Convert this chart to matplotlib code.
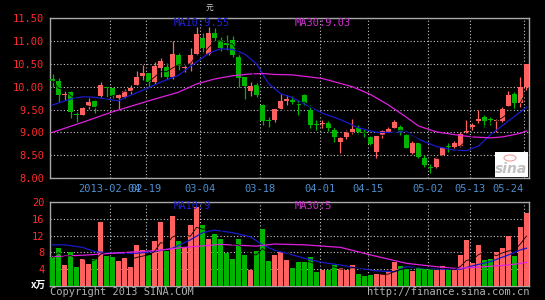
import matplotlib
matplotlib.use("Agg")
import matplotlib.pyplot as plt
import numpy as np
import pandas as pd
from matplotlib.patches import Rectangle, Ellipse

# daily candles (open, close, high, low), 80 trading days
opens = [10.16, 10.12, 9.81, 9.88, 9.40, 9.39, 9.58, 9.68, 9.79, 10.00,
         9.98, 9.76, 9.78, 9.91, 10.04, 10.24, 10.31, 10.11, 10.41, 10.44,
         10.22, 10.70, 10.40, 10.50, 10.71, 11.06, 10.71, 11.18, 11.02, 10.95,
         11.02, 10.66, 10.22, 9.90, 10.03, 9.60, 9.27, 9.27, 9.52, 9.69,
         9.72, 9.62, 9.82, 9.50, 9.18, 9.18, 9.21, 9.06, 8.78, 8.90,
         9.00, 9.10, 9.01, 8.90, 8.57, 8.94, 9.00, 9.10, 9.12, 8.95,
         8.54, 8.76, 8.44, 8.24, 8.25, 8.50, 8.69, 8.68, 8.70, 9.00,
         9.12, 9.25, 9.34, 9.30, 9.25, 9.25, 9.58, 9.85, 9.65, 10.00]
closes = [10.13, 9.81, 9.84, 9.45, 9.38, 9.54, 9.67, 9.56, 10.03, 9.97,
          9.80, 9.82, 9.90, 9.97, 10.22, 10.31, 10.11, 10.45, 10.56, 10.22,
          10.71, 10.46, 10.43, 10.70, 11.15, 10.84, 11.17, 11.06, 10.84, 10.92,
          10.70, 10.20, 10.02, 10.01, 9.81, 9.25, 9.24, 9.51, 9.68, 9.74,
          9.66, 9.60, 9.64, 9.16, 9.17, 9.20, 9.10, 8.89, 8.88, 9.00,
          9.08, 9.00, 8.99, 8.75, 8.92, 9.03, 9.08, 9.22, 9.01, 8.66,
          8.76, 8.47, 8.28, 8.21, 8.43, 8.66, 8.68, 8.76, 8.97, 9.03,
          9.16, 9.29, 9.25, 9.28, 9.27, 9.52, 9.81, 9.65, 10.00, 10.50]
highs = [10.27, 10.20, 9.90, 9.90, 9.45, 9.55, 9.76, 9.70, 10.10, 10.00,
         9.98, 9.85, 9.94, 10.03, 10.34, 10.47, 10.31, 10.55, 10.62, 10.53,
         11.00, 10.75, 10.47, 10.85, 11.30, 11.17, 11.30, 11.28, 11.10, 11.13,
         11.12, 10.75, 10.22, 10.10, 10.10, 9.63, 9.34, 9.52, 9.85, 9.82,
         9.79, 9.71, 9.83, 9.60, 9.27, 9.27, 9.27, 9.12, 8.90, 9.05,
         9.29, 9.16, 9.08, 8.92, 8.92, 9.05, 9.11, 9.27, 9.16, 8.97,
         8.81, 8.76, 8.50, 8.30, 8.47, 8.68, 8.76, 8.80, 9.00, 9.27,
         9.20, 9.48, 9.38, 9.34, 9.29, 9.56, 9.90, 9.89, 10.22, 10.50]
lows = [9.99, 9.66, 9.72, 9.32, 9.23, 9.38, 9.52, 9.43, 9.78, 9.78,
        9.76, 9.52, 9.76, 9.83, 10.04, 10.15, 10.00, 10.07, 10.22, 10.18,
        10.18, 10.36, 10.33, 10.35, 10.70, 10.73, 10.70, 11.00, 10.78, 10.80,
        10.66, 10.00, 9.73, 9.80, 9.78, 9.16, 9.12, 9.23, 9.50, 9.60,
        9.62, 9.38, 9.60, 9.09, 9.05, 9.09, 9.04, 8.78, 8.55, 8.86,
        8.97, 8.97, 8.90, 8.72, 8.44, 8.88, 9.00, 9.09, 8.94, 8.65,
        8.52, 8.44, 8.25, 8.10, 8.23, 8.50, 8.58, 8.66, 8.68, 8.98,
        9.05, 9.20, 9.12, 9.16, 9.00, 9.23, 9.58, 9.52, 9.56, 9.92]

# volume, in units of 10 000 lots
volumes = [6.8, 9.1, 5.0, 8.1, 4.5, 6.5, 5.2, 6.5, 15.2, 7.2,
           7.0, 6.0, 6.7, 4.6, 9.7, 8.6, 7.4, 10.7, 15.2, 8.3,
           16.7, 10.7, 9.2, 14.5, 18.7, 14.5, 11.2, 12.4, 11.2, 7.9,
           6.4, 11.2, 7.4, 3.9, 8.4, 13.6, 6.0, 7.4, 8.2, 6.2,
           4.3, 5.6, 5.6, 6.8, 3.4, 3.7, 3.7, 5.0, 4.2, 3.9,
           5.0, 2.9, 2.4, 2.6, 2.9, 2.9, 3.4, 5.6, 4.8, 4.1,
           3.5, 4.6, 4.2, 4.0, 3.7, 4.7, 3.7, 3.7, 7.5, 11.0,
           5.5, 9.7, 6.2, 6.4, 8.2, 9.0, 11.9, 7.1, 14.0, 17.5]

# moving-average lines (day index, value)
ma10_days = [0, 3, 5, 7, 11, 12, 15, 18, 21, 23, 26, 28, 30, 32, 34, 36, 38,
             40, 42, 45, 48, 51, 54, 57, 59, 61, 64, 67, 69, 71, 73, 76, 79]
ma10_vals = [9.60, 9.73, 9.78, 9.77, 9.69, 9.76, 9.92, 10.10, 10.25, 10.45, 10.73,
             10.83, 10.82, 10.72, 10.50, 10.07, 9.85, 9.76, 9.62, 9.42, 9.28,
             9.10, 9.00, 9.00, 9.02, 8.85, 8.69, 8.61, 8.60, 8.70, 8.95, 9.25, 9.55]
ma30_days = [0, 5, 10, 16, 21, 24, 27, 30, 33, 35, 37, 40, 45, 50, 53, 56,
             59, 61, 64, 67, 70, 73, 75, 78, 79]
ma30_vals = [9.00, 9.22, 9.45, 9.69, 9.88, 10.06, 10.17, 10.24, 10.28, 10.29,
             10.27, 10.26, 10.18, 10.00, 9.83, 9.60, 9.33, 9.14, 9.01, 8.95,
             8.90, 8.88, 8.90, 8.98, 9.03]
vma10_days = [0, 2, 5, 7, 10, 14, 17, 20, 23, 25, 27, 30, 33, 35, 37, 39, 42,
              45, 48, 51, 54, 57, 59, 62, 65, 68, 70, 73, 76, 78, 79]
vma10_vals = [9.8, 9.8, 9.2, 8.2, 7.8, 7.8, 8.2, 9.0, 11.0, 12.7, 13.3, 12.7,
              11.7, 9.8, 8.5, 7.8, 6.6, 5.6, 5.0, 4.2, 3.6, 3.4, 4.6, 4.2,
              4.0, 4.0, 4.8, 5.8, 7.4, 8.6, 9.0]
vma30_days = [0, 6, 11, 17, 22, 28, 34, 37, 42, 48, 53, 59, 64, 67, 70, 76, 79]
vma30_vals = [7.0, 7.4, 7.9, 8.4, 9.2, 9.9, 9.5, 10.0, 9.8, 9.2, 7.4, 5.4,
              4.6, 4.2, 4.4, 5.0, 5.6]

tick_days = [10, 16, 25, 35, 45, 53, 63, 70, 79]
tick_labels = ["2013-02-04", "02-19", "03-04", "03-18", "04-01", "04-15",
               "05-02", "05-13", "05-24"]

UP = "#ff6060"
DOWN = "#00b400"
GRIDC = "#c8c8c8"
FRAME = "#a8a8a8"
LABEL_RED = "#ff2a2a"
BLUE = "#2222dd"
MAGENTA = "#d030d0"
MONO = "DejaVu Sans Mono"

o = np.array(opens)
c = np.array(closes)
h = np.array(highs)
l = np.array(lows)
v = np.array(volumes)
x = np.arange(len(o))
up = c >= o
colors = np.where(up, UP, DOWN)

fig = plt.figure(figsize=(5.45, 3.0), dpi=100, facecolor="black")
ax = fig.add_axes([50 / 545, 122 / 300, 479 / 545, 159.7 / 300], facecolor="black")
axv = fig.add_axes([50 / 545, 14 / 300, 479 / 545, 84 / 300], facecolor="black")

grid_x = np.array(tick_days) - 0.42
for a in (ax, axv):
    a.set_xlim(-0.42, 79.42)
    a.set_xticks(grid_x)
    a.tick_params(length=0)
    for s in a.spines.values():
        s.set_color(FRAME)
        s.set_linewidth(1.0)
    a.grid(True, color=GRIDC, linestyle=(0, (1, 2)), linewidth=0.8)
    a.set_axisbelow(True)

# price panel
ax.set_ylim(8.0, 11.5)
pticks = np.arange(8.0, 11.51, 0.5)
ax.set_yticks(pticks)
ax.set_yticklabels(["%.2f" % t for t in pticks], color=LABEL_RED,
                   fontsize=7.5, family=MONO)
ax.set_xticklabels(tick_labels, color="#4f8fcf", fontsize=7.5, family=MONO)
ax.tick_params(axis="x", pad=4)
ax.tick_params(axis="y", pad=4)
ax.get_xticklabels()[-1].set_ha("right")

fig.text(174 / 545, 1 - 23 / 300, "MA10:9.55", color=BLUE, fontsize=7.5,
         family=MONO, va="center", zorder=0.5)
fig.text(295 / 545, 1 - 23 / 300, "MA30:9.03", color=MAGENTA, fontsize=7.5,
         family=MONO, va="center", zorder=0.5)

ax.vlines(x, l, h, colors=colors, linewidth=0.9, zorder=2)
body = np.maximum(np.abs(c - o), 0.012)
ax.bar(x, body, bottom=np.minimum(o, c), width=0.75, color=colors, zorder=3)
ax.plot(ma10_days, ma10_vals, color="#1a1acc", linewidth=0.9, zorder=4)
ax.plot(ma30_days, ma30_vals, color="#e020e0", linewidth=0.9, zorder=4)
ma5 = pd.Series(c).rolling(5, min_periods=1).mean()
ax.plot(x, ma5, color="black", linewidth=0.6, zorder=4)

# volume panel
axv.set_ylim(0, 20)
axv.set_yticks([4, 8, 12, 16, 20])
axv.set_yticklabels(["4", "8", "12", "16", "20"], color=LABEL_RED,
                    fontsize=7.5, family=MONO)
axv.tick_params(axis="y", pad=4)
axv.set_xticklabels([])
fig.text(174 / 545, 1 - 206 / 300, "MA10:9", color=BLUE, fontsize=7.5,
         family=MONO, va="center", zorder=0.5)
fig.text(295 / 545, 1 - 206 / 300, "MA30:5", color=MAGENTA, fontsize=7.5,
         family=MONO, va="center", zorder=0.5)
axv.bar(x, v, width=0.75, color=colors, zorder=3)
axv.plot(vma10_days, vma10_vals, color="#1a1acc", linewidth=0.9, zorder=4)
axv.plot(vma30_days, vma30_vals, color="#e020e0", linewidth=0.9, zorder=4)
vma5 = pd.Series(v).rolling(5, min_periods=1).mean()
axv.plot(x, vma5, color="black", linewidth=0.6, zorder=4)

# the axes backgrounds are made transparent so the MA labels behind them show
for a in (ax, axv):
    a.patch.set_alpha(0)
fig.patches.append(Rectangle((0, 0), 1, 1, transform=fig.transFigure,
                             facecolor="black", zorder=-10))

# sina logo
fig.patches.append(Rectangle((495 / 545, 123 / 300), 33 / 545, 25 / 300,
                             transform=fig.transFigure, facecolor="white",
                             edgecolor="none", zorder=5))
fig.patches.append(Ellipse((510 / 545, 142 / 300), 12 / 545, 6 / 300,
                           transform=fig.transFigure, facecolor="none",
                           edgecolor="#f0a0a0", linewidth=0.8, zorder=6))
fig.text(511 / 545, 131 / 300, "sina", color="#c0c0c0", fontsize=10,
         fontweight="bold", style="italic", ha="center", va="center", zorder=7)

fig.text(209 / 545, 1 - 9 / 300, "元", color="#d0d0d0", fontsize=5.5,
         family=["Noto Sans CJK SC", "DejaVu Sans"], ha="center", va="center")
fig.text(38 / 545, 1 - 285 / 300, "x万", color="white", fontsize=7,
         fontweight="bold", family=["Noto Sans CJK SC", "DejaVu Sans"],
         ha="center", va="center")
fig.text(50 / 545, 1 - 292 / 300, "Copyright 2013 SINA.COM", color="#b0b0b0",
         fontsize=7.5, family=MONO, ha="left", va="center")
fig.text(529 / 545, 1 - 292 / 300, "http://finance.sina.com.cn", color="#b0b0b0",
         fontsize=7.5, family=MONO, ha="right", va="center")

fig.savefig("out.png", dpi=100, facecolor="black")
